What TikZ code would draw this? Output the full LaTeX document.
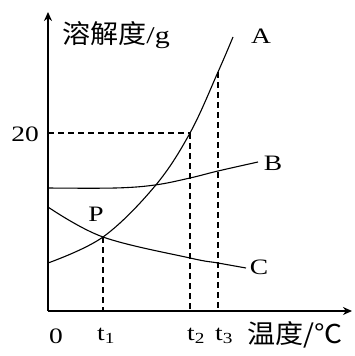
\documentclass[tikz,border=0pt]{standalone}
\usepackage{fontspec}
\setmainfont{Liberation Serif}[FakeStretch=1.25]
\newfontfamily\cjk{Noto Sans CJK SC}[FakeStretch=1.08]
\usetikzlibrary{arrows.meta}
\usetikzlibrary{positioning}

\begin{document}
\begin{tikzpicture}[
    x=1pt, y=-1pt,
    axis/.style={line width=1.8pt, -{Stealth[length=9pt,width=8pt]}},
    curve/.style={line width=1.1pt},
    guide/.style={line width=1.2pt, dash pattern=on 6pt off 4pt},
    lbl/.style={inner sep=0pt, font=\fontsize{22}{24}\selectfont},
    cjklbl/.style={inner sep=0pt, font=\cjk\fontsize{26}{28}\selectfont},
  ]

  \useasboundingbox (0,0) rectangle (354,356);

  % Axes
  \coordinate (O)    at (48,311);
  \coordinate (ytip) at (48,12);
  \coordinate (xtip) at (352,311);
  \draw[axis] (O) -- (ytip);
  \draw[axis] (O) -- (xtip);

  % Points on the curves
  \coordinate (P)  at (103,237);
  \coordinate (A2) at (190,133);
  \coordinate (A3) at (218,72);
  \coordinate (y20) at (48,133);
  \coordinate (t1) at (103,311);
  \coordinate (t2) at (190,311);
  \coordinate (t3) at (218,311);

  % Curves A, B, C
  \draw[curve] plot[smooth, tension=0.6] coordinates
    {(48,263) (P) (155,186) (A2) (A3) (233,37)};
  \draw[curve] plot[smooth, tension=0.6] coordinates
    {(48,188) (115,188) (155,185) (190,178) (218,171) (258,162)};
  \draw[curve] plot[smooth, tension=0.6] coordinates
    {(48,207) (P) (190,258) (218,263) (246,268)};

  % Dashed guides
  \draw[guide] (y20) -- (A2);
  \draw[guide] (P)  -- (t1);
  \draw[guide] (A2) -- (t2);
  \draw[guide] (A3) -- (t3);

  % Labels
  \node[cjklbl, anchor=west] (ylabel) at (62,35) {溶解度\rmfamily\fontsize{24}{26}\selectfont/g};
  \node[lbl] (v20) at (25,134) {20};
  \node[lbl] (labA) at (261,36) {A};
  \node[lbl] (labB) at (273,163) {B};
  \node[lbl] (labC) at (259,267) {C};
  \node[lbl] (labP) at (96,214) {P};

  % Ticks below the x axis
  \node[lbl] (l0)  at (56,336) {0};
  \node[lbl] (lt1) at (106,336) {t\textsubscript{1}};
  \node[lbl] (lt2) at (196,336) {t\textsubscript{2}};
  \node[lbl] (lt3) at (224,336) {t\textsubscript{3}};
  \node[cjklbl] (xlabel) at (295,335) {温度/℃};

\end{tikzpicture}
\end{document}
